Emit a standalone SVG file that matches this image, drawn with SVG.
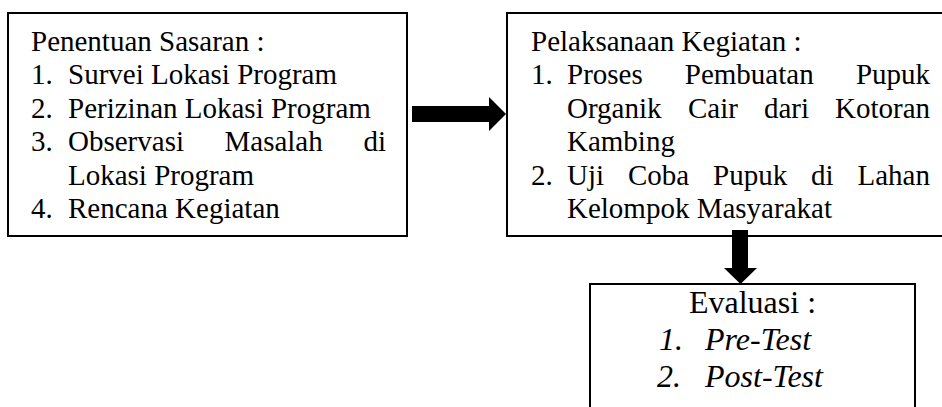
<svg xmlns="http://www.w3.org/2000/svg" width="942" height="407" viewBox="0 0 942 407">
<style>
.box{fill:#fff;stroke:#000;stroke-width:2}
.t{font-family:'Liberation Serif','Times New Roman',serif;font-size:29px;fill:#000}
.e{font-family:'Liberation Serif','Times New Roman',serif;font-size:32px;fill:#000}
.i{font-style:italic}
.arr{fill:#000}
</style>
<rect width="942" height="407" fill="#fff"/>
<g id="node-penentuan">
<rect class="box" x="8" y="13" width="399" height="223"/>
<text class="t" x="31" y="50.5">Penentuan Sasaran :</text>
<text class="t" x="31" y="84">1.</text><text class="t" x="68" y="84">Survei Lokasi Program</text>
<text class="t" x="31" y="117.5">2.</text><text class="t" x="68" y="117.5">Perizinan Lokasi Program</text>
<text class="t" x="31" y="151">3.</text><text class="t" x="68" y="151">Observasi</text><text class="t" x="224.5" y="151">Masalah</text><text class="t" x="363.4" y="151">di</text>
<text class="t" x="68" y="184.5">Lokasi Program</text>
<text class="t" x="31" y="218">4.</text><text class="t" x="68" y="218">Rencana Kegiatan</text>
</g>
<g id="node-pelaksanaan">
<rect class="box" x="507" y="13" width="445" height="223"/>
<text class="t" x="531" y="50.5">Pelaksanaan Kegiatan :</text>
<text class="t" x="531" y="84">1.</text><text class="t" x="567" y="84">Proses</text><text class="t" x="684.8" y="84">Pembuatan</text><text class="t" x="855.9" y="84">Pupuk</text>
<text class="t" x="567" y="117.5">Organik</text><text class="t" x="688" y="117.5">Cair</text><text class="t" x="763.9" y="117.5">dari</text><text class="t" x="835" y="117.5">Kotoran</text>
<text class="t" x="567" y="151">Kambing</text>
<text class="t" x="531" y="184.5">2.</text><text class="t" x="567" y="184.5">Uji</text><text class="t" x="628" y="184.5">Coba</text><text class="t" x="713.1" y="184.5">Pupuk</text><text class="t" x="811.1" y="184.5">di</text><text class="t" x="857.5" y="184.5">Lahan</text>
<text class="t" x="567" y="218">Kelompok Masyarakat</text>
</g>
<g id="node-evaluasi">
<rect class="box" x="590" y="284" width="325" height="140"/>
<text class="e" x="752.5" y="313" text-anchor="middle">Evaluasi :</text>
<text class="e i" x="659" y="350">1.</text><text class="e i" x="705" y="350">Pre-Test</text>
<text class="e i" x="657" y="387">2.</text><text class="e i" x="705" y="387">Post-Test</text>
</g>
<g id="connectors">
<polygon class="arr" points="412,106 489,106 489,97 506,114 489,131 489,122 412,122"/>
<polygon class="arr" points="732,230 748,230 748,268 757,268 740.5,284 724,268 732,268"/>
</g>
</svg>
